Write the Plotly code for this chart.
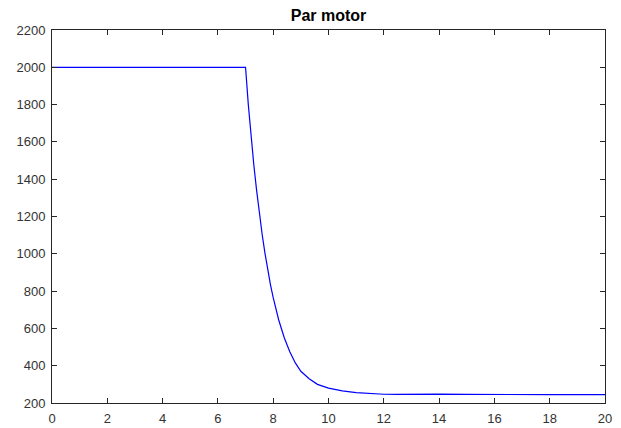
import plotly.graph_objects as go

# time (s) and motor torque
t = [0, 7.0, 7.1, 7.2, 7.3, 7.4, 7.5, 7.6, 7.7, 7.8, 7.9, 8.0, 8.2, 8.4, 8.6,
     8.8, 9.0, 9.3, 9.6, 10.0, 10.5, 11.0, 11.5, 12.0, 12.5, 13.0, 13.5, 14.0,
     15.0, 16.0, 18.0, 20.0]
par = [2000, 2000, 1800, 1625, 1475, 1340, 1215, 1105, 1005, 915, 835, 765, 645,
       550, 475, 415, 370, 330, 300, 280, 265, 256, 250, 247, 246, 248, 250, 248,
       246, 245, 245, 245]

x_ticks = list(range(0, 21, 2))
y_ticks = list(range(200, 2201, 200))

fig = go.Figure()
fig.add_trace(go.Scatter(x=t, y=par, mode='lines',
                         line=dict(color='#0000ff', width=1.2)))

axis_style = dict(
    showline=True, mirror='ticks', linecolor='#262626', linewidth=1,
    ticks='inside', ticklen=5, tickcolor='#262626', tickwidth=1,
    showgrid=False, zeroline=False, automargin=False,
    ticklabelstandoff=3,
    tickfont=dict(size=13, color='#333333'),
)

fig.update_layout(
    width=621, height=428,
    margin=dict(l=52, r=16, t=30, b=25),
    paper_bgcolor='white', plot_bgcolor='white',
    font=dict(family='Liberation Sans, Arial, sans-serif'),
    showlegend=False,
    title=dict(text='<b>Par motor</b>', x=(52 + 605) / 2 / 621, xanchor='center',
               y=1 - 15 / 428, yanchor='middle', yref='container',
               automargin=False, font=dict(size=16, color='black')),
    xaxis=dict(range=[0, 20], tickvals=x_ticks, **axis_style),
    yaxis=dict(range=[200, 2200], tickvals=y_ticks, **axis_style),
)

# drop the browser's default page margin so the figure sits at the corner
fig.write_html("out.html", config={'displayModeBar': False},
               post_script="document.body.style.margin='0';")
